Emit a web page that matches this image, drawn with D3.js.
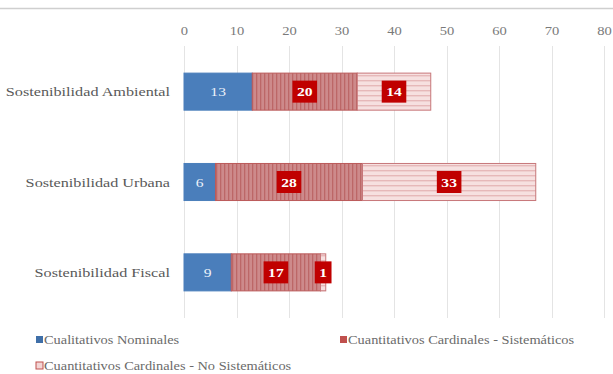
<!DOCTYPE html>
<html>
<head>
<meta charset="utf-8">
<script src="https://cdn.jsdelivr.net/npm/d3@7"></script>
<style>
  html, body { margin: 0; padding: 0; background: #fff; }
  svg { display: block; }
  text { font-family: "Liberation Serif", "DejaVu Serif", serif; }
</style>
</head>
<body>
<svg id="chart" width="613" height="374"></svg>
<script>
// Categories and stacked series values
const categories = ["Sostenibilidad Ambiental", "Sostenibilidad Urbana", "Sostenibilidad Fiscal"];
const seriesNames = ["Cualitativos Nominales", "Cuantitativos Cardinales - Sistemáticos", "Cuantitativos Cardinales - No Sistemáticos"];
const nominales = [13, 6, 9];
const sistematicos = [20, 28, 17];
const noSistematicos = [14, 33, 1];
const xTicks = [0, 10, 20, 30, 40, 50, 60, 70, 80];

const W = 613, H = 374;
const SX = 1.2; // horizontal stretch applied to the serif text
const svg = d3.select("#chart");

const margin = { left: 184, right: 9, top: 46, bottom: 56 };
const x = d3.scaleLinear().domain([0, 80]).range([margin.left, W - margin.right]);
const y = d3.scaleBand().domain(categories).range([margin.top, 318]).paddingInner(0.59).paddingOuter(0.3);

// Patterns for the two cardinal series
const defs = svg.append("defs");
const pv = defs.append("pattern").attr("id", "vstripe").attr("patternUnits", "userSpaceOnUse")
  .attr("width", 4).attr("height", 4);
pv.append("rect").attr("width", 4).attr("height", 4).attr("fill", "#cd8a8b");
pv.append("rect").attr("x", 0).attr("width", 1.3).attr("height", 4).attr("fill", "#bc6767");

const ph = defs.append("pattern").attr("id", "hstripe").attr("patternUnits", "userSpaceOnUse")
  .attr("width", 4).attr("height", 5);
ph.append("rect").attr("width", 4).attr("height", 5).attr("fill", "#f6e0e0");
ph.append("rect").attr("y", 0).attr("width", 4).attr("height", 1.4).attr("fill", "#e6b8b9");

const fills = ["#4a7ebb", "url(#vstripe)", "url(#hstripe)"];
const strokes = ["#4a7ebb", "#bb5a5a", "#c7777a"];

// Frame line at the top
svg.append("line").attr("x1", 0).attr("x2", W).attr("y1", 8.5).attr("y2", 8.5)
  .attr("stroke", "#cfcfcf").attr("stroke-width", 1.5);

// Gridlines
svg.append("g").selectAll("line").data(xTicks).join("line")
  .attr("x1", d => Math.round(x(d)) + 0.5).attr("x2", d => Math.round(x(d)) + 0.5)
  .attr("y1", margin.top).attr("y2", 318)
  .attr("stroke", "#e4e4e4").attr("stroke-width", 1);

// Top axis labels
const axis = d3.axisTop(x).tickValues(xTicks).tickSize(0).tickPadding(0);
const ag = svg.append("g").attr("transform", `translate(0,35)`).call(axis);
ag.select(".domain").remove();
ag.selectAll("text").attr("fill", "#7a7a7a").attr("font-size", 13)
  .attr("transform", `scale(${SX},1)`).attr("x", 0)
  .style("font-family", "'Liberation Serif', serif");
ag.selectAll(".tick text").each(function () { d3.select(this).attr("transform", `scale(1.12,1)`); });

// Category labels
svg.append("g").selectAll("text").data(categories).join("text")
  .attr("transform", d => `translate(170,${y(d) + y.bandwidth() / 2}) scale(${SX},1)`)
  .attr("dy", "0.35em")
  .attr("text-anchor", "end").attr("fill", "#595959").attr("font-size", 13.5)
  .text(d => d);

// Stack the series
const rows = categories.map((c, i) => ({ cat: c, v: [nominales[i], sistematicos[i], noSistematicos[i]] }));
const segs = [];
rows.forEach(r => {
  let acc = 0;
  r.v.forEach((v, s) => { segs.push({ cat: r.cat, s, x0: acc, x1: acc + v, v }); acc += v; });
});

svg.append("g").selectAll("rect").data(segs).join("rect")
  .attr("x", d => x(d.x0)).attr("width", d => x(d.x1) - x(d.x0))
  .attr("y", d => y(d.cat)).attr("height", y.bandwidth())
  .attr("fill", d => fills[d.s])
  .attr("stroke", d => strokes[d.s]).attr("stroke-width", 1);

// Value labels
const lg = svg.append("g");
segs.forEach(d => {
  const cx = x((d.x0 + d.x1) / 2), cy = y(d.cat) + y.bandwidth() / 2;
  if (d.s === 0) {
    lg.append("text").attr("transform", `translate(${cx},${cy}) scale(${SX},1)`).attr("dy", "0.35em")
      .attr("text-anchor", "middle").attr("fill", "#eef3fa").attr("font-size", 13)
      .text(d.v);
  } else {
    const t = lg.append("text").attr("transform", `translate(${cx},${cy}) scale(${SX},1)`).attr("dy", "0.35em")
      .attr("text-anchor", "middle").attr("fill", "#fff").attr("font-size", 13)
      .attr("font-weight", "bold").text(d.v);
    const bb = t.node().getBBox();
    const bw = Math.max(bb.width * SX + 9, 15), bh = 22;
    lg.insert("rect", () => t.node())
      .attr("x", cx - bw / 2).attr("y", cy - bh / 2).attr("width", bw).attr("height", bh)
      .attr("fill", "#c00000");
  }
});

// Legend
const legendItems = [
  { name: seriesNames[0], s: 0, x: 36, y: 340 },
  { name: seriesNames[1], s: 1, x: 340, y: 340 },
  { name: seriesNames[2], s: 2, x: 36, y: 366 }
];
const leg = svg.append("g").selectAll("g").data(legendItems).join("g")
  .attr("transform", d => `translate(${d.x},${d.y})`);
leg.append("rect").attr("x", 0).attr("y", -4).attr("width", 7).attr("height", 7)
  .attr("fill", d => d.s === 0 ? "#3f6fa8" : d.s === 1 ? "#c0504d" : "#f3d6d6")
  .attr("stroke", d => d.s === 2 ? "#c0504d" : "none").attr("stroke-width", 1);
leg.append("text").attr("transform", `translate(8,0) scale(1.25,1)`).attr("dy", "0.35em")
  .attr("fill", "#6a6a6a").attr("font-size", 11.5).text(d => d.name);
</script>
</body>
</html>
